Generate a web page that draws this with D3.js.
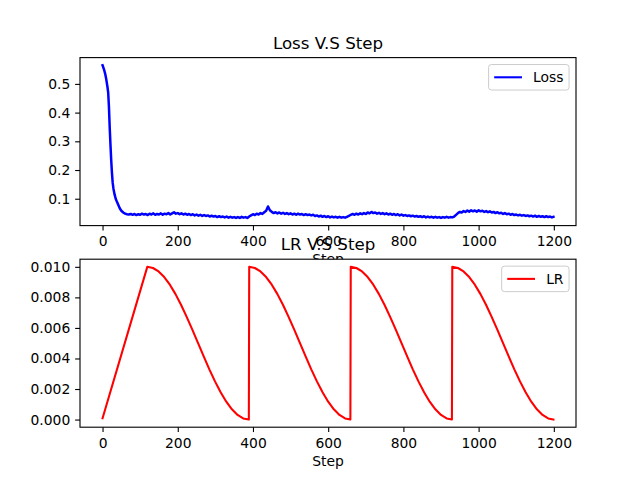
<!DOCTYPE html>
<html>
<head>
<meta charset="utf-8">
<script src="https://cdn.jsdelivr.net/npm/d3@7"></script>
<style>
  html, body { margin: 0; padding: 0; background: #fff; }
  svg { display: block; }
  text { font-family: "DejaVu Sans", sans-serif; fill: #000; }
</style>
</head>
<body>
<svg id="chart" width="640" height="480"></svg>
<script>
// ---------------- data ----------------
const lossSteps = [0,4,7,10,13,15,17,19,21,23,25,27,29,32,35,38,42,46,50,55,60,65,70,75,
  80,85,90,95,100,105,110,115,120,125,130,135,140,145,150,155,160,165,170,175,180,185,190,195,
  200,205,210,215,220,225,230,235,240,245,250,255,260,265,270,275,280,285,290,295,
  300,305,310,315,320,325,330,335,340,345,350,355,360,365,370,375,380,385,390,395,
  400,405,410,415,420,425,430,435,440,445,450,455,460,465,470,475,480,485,490,495,
  500,505,510,515,520,525,530,535,540,545,550,555,560,565,570,575,580,585,590,595,
  600,605,610,615,620,625,630,635,640,645,650,655,660,665,670,675,680,685,690,695,
  700,705,710,715,720,725,730,735,740,745,750,755,760,765,770,775,780,785,790,795,
  800,805,810,815,820,825,830,835,840,845,850,855,860,865,870,875,880,885,890,895,
  900,905,910,915,920,925,930,935,940,945,950,955,960,965,970,975,980,985,990,995,
  1000,1005,1010,1015,1020,1025,1030,1035,1040,1045,1050,1055,1060,1065,1070,1075,1080,1085,1090,1095,
  1100,1105,1110,1115,1120,1125,1130,1135,1140,1145,1150,1155,1160,1165,1170,1175,1180,1185,1190,1195,1199];
const lossValues = [0.565,0.550,0.535,0.515,0.490,0.470,0.420,0.350,0.290,0.235,0.190,0.155,0.135,0.115,0.100,0.090,0.078,0.066,0.058,0.052,0.048,0.046,0.045,0.047,
  0.044,0.047,0.043,0.046,0.044,0.048,0.045,0.047,0.043,0.048,0.045,0.049,0.044,0.047,0.045,0.049,0.044,0.048,0.046,0.050,0.045,0.049,0.053,0.048,
  0.050,0.046,0.049,0.045,0.048,0.044,0.047,0.043,0.046,0.042,0.045,0.041,0.044,0.040,0.043,0.040,0.042,0.038,0.041,0.038,
  0.040,0.036,0.039,0.036,0.038,0.035,0.038,0.034,0.037,0.034,0.036,0.033,0.036,0.033,0.037,0.034,0.036,0.033,0.038,0.042,
  0.046,0.043,0.048,0.045,0.050,0.047,0.053,0.058,0.073,0.060,0.054,0.050,0.053,0.049,0.052,0.048,0.051,0.047,0.050,0.046,
  0.049,0.045,0.048,0.044,0.048,0.045,0.047,0.043,0.046,0.043,0.045,0.042,0.044,0.040,0.042,0.038,0.041,0.037,0.040,0.036,
  0.039,0.035,0.038,0.035,0.037,0.034,0.037,0.034,0.036,0.034,0.037,0.040,0.044,0.047,0.044,0.048,0.045,0.049,0.046,0.050,
  0.047,0.052,0.049,0.054,0.050,0.052,0.048,0.051,0.047,0.050,0.046,0.049,0.045,0.048,0.044,0.047,0.043,0.046,0.042,0.045,
  0.041,0.043,0.040,0.042,0.039,0.041,0.038,0.040,0.037,0.039,0.036,0.039,0.035,0.038,0.035,0.037,0.034,0.037,0.034,0.036,
  0.033,0.036,0.034,0.037,0.034,0.036,0.035,0.038,0.044,0.050,0.054,0.052,0.057,0.054,0.059,0.055,0.060,0.056,0.059,0.055,
  0.060,0.056,0.058,0.054,0.057,0.053,0.056,0.052,0.054,0.050,0.053,0.049,0.051,0.047,0.050,0.046,0.048,0.044,0.047,0.043,
  0.045,0.042,0.044,0.041,0.043,0.040,0.042,0.039,0.041,0.038,0.041,0.037,0.040,0.037,0.039,0.036,0.039,0.036,0.038,0.035,0.037];

const lrSteps = [0,119,
  134,149,164,179,194,209,224,239,254,269,284,299,314,329,344,359,374,389,
  390,405,420,435,450,465,480,495,510,525,540,555,570,585,600,615,630,645,659,
  660,675,690,705,720,735,750,765,780,795,810,825,840,855,870,885,900,915,929,
  930,945,960,975,990,1005,1020,1035,1050,1065,1080,1095,1110,1125,1140,1155,1170,1185,1199];
const lrValues = [0.0000833,0.0100,
  0.009924,0.009698,0.009330,0.008830,0.008214,0.007500,0.006710,0.005868,0.005000,0.004132,0.003290,0.002500,0.001786,0.001170,0.000670,0.000302,0.000076,0.000000,
  0.010000,0.009924,0.009698,0.009330,0.008830,0.008214,0.007500,0.006710,0.005868,0.005000,0.004132,0.003290,0.002500,0.001786,0.001170,0.000670,0.000302,0.000076,0.000000,
  0.010000,0.009924,0.009698,0.009330,0.008830,0.008214,0.007500,0.006710,0.005868,0.005000,0.004132,0.003290,0.002500,0.001786,0.001170,0.000670,0.000302,0.000076,0.000000,
  0.010000,0.009924,0.009698,0.009330,0.008830,0.008214,0.007500,0.006710,0.005868,0.005000,0.004132,0.003290,0.002500,0.001786,0.001170,0.000670,0.000302,0.000076,0.000000];

const xTicks = [0,200,400,600,800,1000,1200];
const lossTicks = [0.1,0.2,0.3,0.4,0.5];
const lrTicks = [0.000,0.002,0.004,0.006,0.008,0.010];

const titles = ["Loss V.S Step", "LR V.S Step"];
const legendLabels = ["Loss", "LR"];
const xLabel = "Step";

// ---------------- layout ----------------
const svg = d3.select("#chart");
const L = 80, R = 576;
const panels = [
  {top: 57.6, bottom: 225.6, steps: lossSteps, values: lossValues, ticks: lossTicks, fmt: d3.format(".1f"), color: "#0000ff", lw: 2.5, title: titles[0], legend: legendLabels[0]},
  {top: 259.2, bottom: 427.2, steps: lrSteps, values: lrValues, ticks: lrTicks, fmt: d3.format(".3f"), color: "#ff0000", lw: 2.08, title: titles[1], legend: legendLabels[1]}
];
const FS = 13.89, TFS = 16.67, TICK = 4.86, PAD = 4.86;

function padded(ext) {
  const d = (ext[1] - ext[0]) * 0.05;
  return [ext[0] - d, ext[1] + d];
}

panels.forEach(p => {
  const g = svg.append("g");
  const x = d3.scaleLinear().domain(padded(d3.extent(p.steps))).range([L, R]);
  const y = d3.scaleLinear().domain(padded(d3.extent(p.values))).range([p.bottom, p.top]);

  // background
  g.append("rect").attr("x", L).attr("y", p.top).attr("width", R - L).attr("height", p.bottom - p.top).attr("fill", "#fff");

  // line
  const pts = p.steps.map((s, i) => [s, p.values[i]]);
  g.append("path").datum(pts)
    .attr("d", d3.line().x(d => x(d[0])).y(d => y(d[1])))
    .attr("fill", "none").attr("stroke", p.color).attr("stroke-width", p.lw)
    .attr("stroke-linejoin", "round").attr("stroke-linecap", "square");

  // frame
  g.append("rect").attr("x", L).attr("y", p.top).attr("width", R - L).attr("height", p.bottom - p.top)
    .attr("fill", "none").attr("stroke", "#000").attr("stroke-width", 1.11);

  // x axis
  const xa = g.append("g").attr("transform", `translate(0,${p.bottom})`)
    .call(d3.axisBottom(x).tickValues(xTicks).tickSize(TICK).tickPadding(PAD).tickFormat(d3.format("d")));
  xa.select(".domain").remove();
  xa.selectAll(".tick line").attr("stroke", "#000").attr("stroke-width", 1.11);
  xa.selectAll(".tick text").attr("font-size", FS).attr("font-family", "DejaVu Sans").attr("fill", "#000").attr("dy", "0.78em");

  // y axis
  const ya = g.append("g").attr("transform", `translate(${L},0)`)
    .call(d3.axisLeft(y).tickValues(p.ticks).tickSize(TICK).tickPadding(PAD).tickFormat(p.fmt));
  ya.select(".domain").remove();
  ya.selectAll(".tick line").attr("stroke", "#000").attr("stroke-width", 1.11);
  ya.selectAll(".tick text").attr("font-size", FS).attr("font-family", "DejaVu Sans").attr("fill", "#000");

  // x label
  g.append("text").attr("x", (L + R) / 2).attr("y", p.bottom + 38.8).attr("text-anchor", "middle")
    .attr("font-size", FS).text(xLabel);

  // title
  g.append("text").attr("x", (L + R) / 2).attr("y", p.top - 9).attr("text-anchor", "middle")
    .attr("font-size", TFS).text(p.title);

  // legend
  const lg = g.append("g");
  const txt = lg.append("text").attr("font-size", FS).text(p.legend);
  const tw = txt.node().getComputedTextLength();
  const bp = 5.56, hl = 27.8, htp = 11.1, bh = 25.5;
  const bw = bp + hl + htp + tw + bp;
  const bx = R - 6.94 - bw, by = p.top + 6.94;
  lg.insert("rect", "text").attr("x", bx).attr("y", by).attr("width", bw).attr("height", bh)
    .attr("rx", 2.8).attr("fill", "#fff").attr("fill-opacity", 0.8).attr("stroke", "#cccccc").attr("stroke-width", 1);
  lg.append("line").attr("x1", bx + bp).attr("x2", bx + bp + hl).attr("y1", by + bh / 2).attr("y2", by + bh / 2)
    .attr("stroke", p.color).attr("stroke-width", 2.08);
  txt.attr("x", bx + bp + hl + htp).attr("y", by + bh / 2 + 5.1);
});
</script>
</body>
</html>
